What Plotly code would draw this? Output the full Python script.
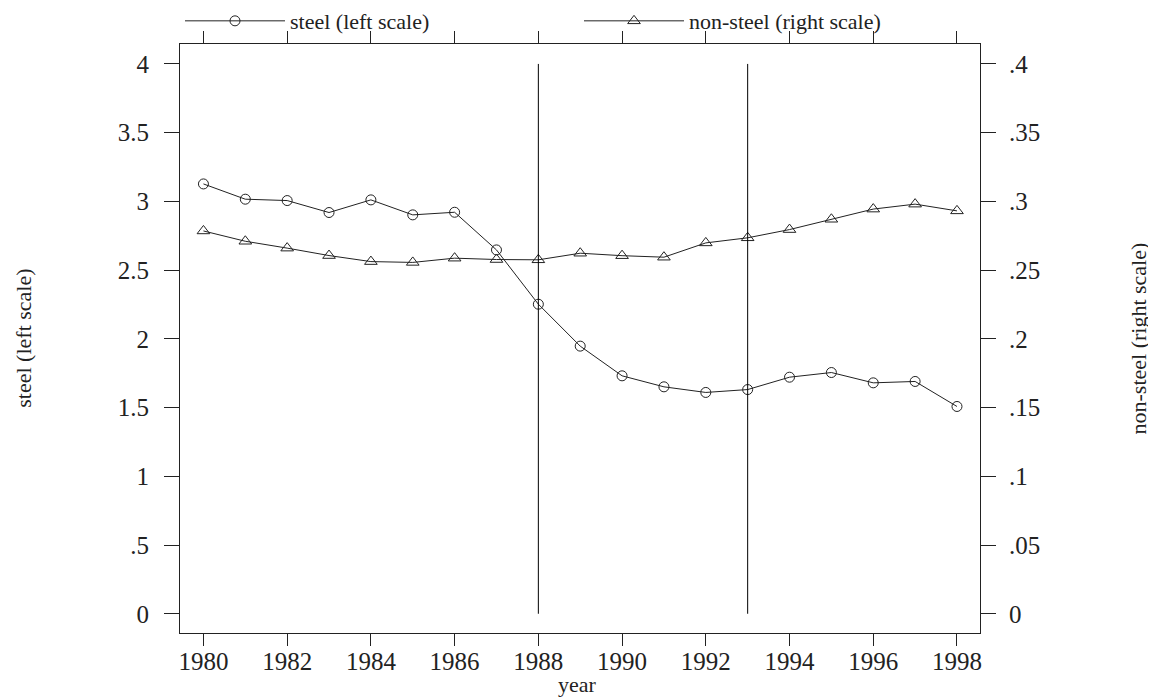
import plotly.graph_objects as go

years = list(range(1980, 1999))
steel = [3.127, 3.016, 3.006, 2.919, 3.011, 2.902, 2.921, 2.647, 2.252, 1.947,
         1.731, 1.651, 1.610, 1.631, 1.721, 1.755, 1.680, 1.690, 1.508]
non_steel = [0.2785, 0.271, 0.266, 0.2606, 0.2562, 0.2556, 0.2587, 0.2577, 0.2575, 0.2623,
             0.2605, 0.2594, 0.2698, 0.2735, 0.2795, 0.287, 0.2944, 0.298, 0.2931]
event_years = [1988, 1993]

left_ticks = [0, 0.5, 1, 1.5, 2, 2.5, 3, 3.5, 4]
left_labels = ["0", ".5", "1", "1.5", "2", "2.5", "3", "3.5", "4"]
right_ticks = [0, 0.05, 0.1, 0.15, 0.2, 0.25, 0.3, 0.35, 0.4]
right_labels = ["0", ".05", ".1", ".15", ".2", ".25", ".3", ".35", ".4"]
x_ticks = list(range(1980, 1999, 2))

FONT = "Liberation Serif"
INK = "#222222"

fig = go.Figure()
fig.add_trace(go.Scatter(
    x=years, y=steel, name="steel (left scale)", mode="lines+markers",
    line=dict(color=INK, width=1),
    marker=dict(symbol="circle-open", size=10, color=INK, line=dict(width=1)),
    yaxis="y"))
fig.add_trace(go.Scatter(
    x=years, y=non_steel, name="non-steel (right scale)", mode="lines+markers",
    line=dict(color=INK, width=1),
    marker=dict(symbol="triangle-up-open", size=11, color=INK, line=dict(width=1)),
    yaxis="y2"))

for yr in event_years:
    fig.add_shape(type="line", x0=yr, x1=yr, y0=0, y1=4, xref="x", yref="y",
                  line=dict(color="black", width=1))

yrange = [-0.14, 4.145]
fig.update_layout(
    width=1156, height=698,
    margin=dict(l=172, r=184, t=36, b=73, autoexpand=False),
    plot_bgcolor="white", paper_bgcolor="white",
    font=dict(family=FONT, size=25, color=INK),
    showlegend=True,
    legend=dict(orientation="h", x=0.0, xanchor="left", y=1.039, yanchor="middle",
                font=dict(family=FONT, size=22), itemwidth=100, entrywidth=284,
                bgcolor="rgba(0,0,0,0)"),
    xaxis=dict(range=[1979.44, 1998.55], tickvals=x_ticks, ticks="outside",
               ticklen=12, tickcolor=INK, showline=True, linecolor=INK, mirror="ticks",
               showgrid=False, zeroline=False, tickfont=dict(size=25),
               ticklabelstandoff=-6),
    yaxis=dict(range=yrange, tickvals=left_ticks, ticktext=left_labels,
               ticks="outside", ticklen=15, tickcolor=INK, showline=True,
               linecolor=INK, showgrid=False, zeroline=False,
               ticklabelstandoff=10, tickfont=dict(size=25)),
    yaxis2=dict(range=[v * 0.1 for v in yrange], tickvals=right_ticks,
                ticktext=right_labels, overlaying="y", side="right",
                ticks="outside", ticklen=15, tickcolor=INK, showline=True,
                linecolor=INK, showgrid=False, zeroline=False,
                ticklabelstandoff=8, tickfont=dict(size=25)),
    annotations=[
        dict(text="steel (left scale)", xref="paper", yref="paper",
             x=-0.196, y=0.5, xanchor="center", yanchor="middle",
             textangle=-90, showarrow=False, font=dict(size=22)),
        dict(text="non-steel (right scale)", xref="paper", yref="paper",
             x=1.1975, y=0.5, xanchor="center", yanchor="middle",
             textangle=-90, showarrow=False, font=dict(size=22)),
        dict(text="year", xref="paper", yref="paper", x=0.4963, y=-0.088,
             xanchor="center", yanchor="middle", showarrow=False,
             font=dict(size=22)),
    ],
)

fig.write_html("out.html")
